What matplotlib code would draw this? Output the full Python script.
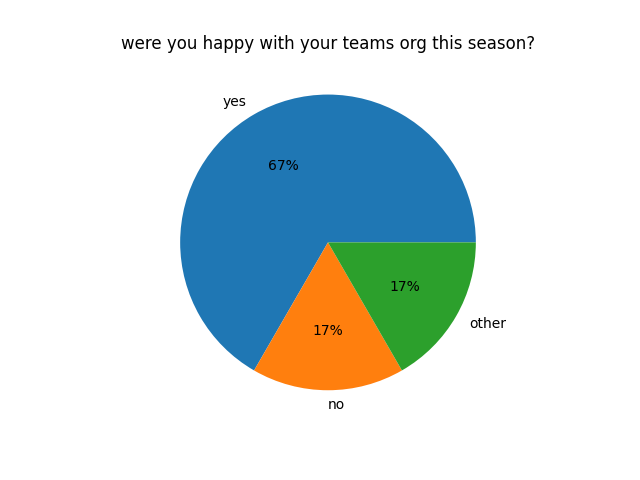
import matplotlib.pyplot as plt

labels = ['yes', 'no', 'other']
counts = [4, 1, 1]

fig, ax = plt.subplots(figsize=(6.4, 4.8), dpi=100)
ax.pie(counts, labels=labels, autopct='%1.0f%%')
ax.set_title('were you happy with your teams org this season?')

fig.savefig('out.png')
